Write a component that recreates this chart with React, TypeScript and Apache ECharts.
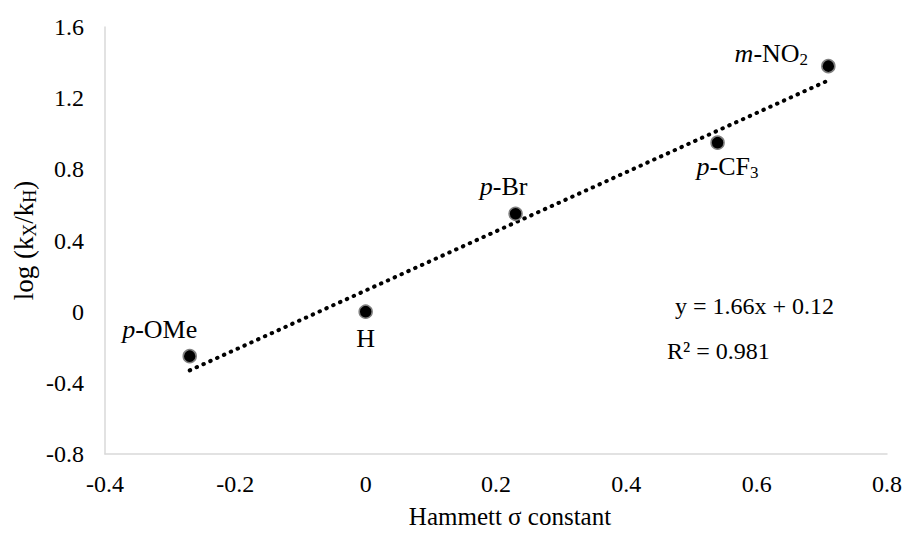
import React, { useEffect, useRef } from "react";
import * as echarts from "echarts";

const substituents = ["p-OMe", "H", "p-Br", "p-CF3", "m-NO2"];
const sigma = [-0.27, 0, 0.23, 0.54, 0.71];
const logRatio = [-0.25, 0, 0.55, 0.95, 1.38];
const trendX = [-0.27, 0.71];
const trendY = [-0.33, 1.3];
const xTickValues = [-0.4, -0.2, 0, 0.2, 0.4, 0.6, 0.8];
const xTickLabels = ["-0.4", "-0.2", "0", "0.2", "0.4", "0.6", "0.8"];
const yTickValues = [-0.8, -0.4, 0, 0.4, 0.8, 1.2, 1.6];
const yTickLabels = ["-0.8", "-0.4", "0", "0.4", "0.8", "1.2", "1.6"];
const xTicks = { min: -0.4, max: 0.8, interval: 0.2 };
const yTicks = { min: -0.8, max: 1.6, interval: 0.4 };
const equationText = "y = 1.66x + 0.12";
const r2Text = "R² = 0.981";

const FONT = "'Liberation Serif', 'Times New Roman', Times, serif";

const labelRich = {
  it: { fontFamily: FONT, fontSize: 26, fontStyle: "italic", color: "#000" },
  n: { fontFamily: FONT, fontSize: 26, color: "#000" },
  sub: { fontFamily: FONT, fontSize: 17, color: "#000", padding: [12, 0, 0, 0] },
};

const labelFormats: Record<string, string> = {
  "p-OMe": "{it|p}{n|-OMe}",
  H: "{n|H}",
  "p-Br": "{it|p}{n|-Br}",
  "p-CF3": "{it|p}{n|-CF}{sub|3}",
  "m-NO2": "{it|m}{n|-NO}{sub|2}",
};

const labelOffsets: Record<string, number[]> = {
  "p-OMe": [-30, -27],
  H: [0, 27],
  "p-Br": [-12, -27],
  "p-CF3": [10, 24],
  "m-NO2": [-57, -13],
};

export default function App() {
  const ref = useRef<HTMLDivElement>(null);
  useEffect(() => {
    if (!ref.current) return;
    document.body.style.margin = "0";
    document.body.style.overflow = "hidden";
    const chart = echarts.init(ref.current, null, { renderer: "svg" });
    chart.setOption({
      animation: false,
      backgroundColor: "#fff",
      textStyle: { fontFamily: FONT, color: "#000" },
      grid: { left: 105, right: 17, top: 27, bottom: 79, outerBoundsMode: "none", containLabel: false },
      xAxis: {
        type: "value",
        min: xTicks.min,
        max: xTicks.max,
        interval: xTicks.interval,
        splitLine: { show: false },
        axisTick: { show: false },
        axisLine: { show: true, onZero: false, lineStyle: { color: "#d9d9d9", width: 1.5 } },
        axisLabel: { show: false },
        name: "Hammett σ constant",
        nameLocation: "middle",
        nameGap: 50,
        nameTextStyle: { fontFamily: FONT, fontSize: 25, color: "#000", padding: [0, 0, 0, 28] },
      },
      yAxis: {
        type: "value",
        min: yTicks.min,
        max: yTicks.max,
        interval: yTicks.interval,
        splitLine: { show: false },
        axisTick: { show: false },
        axisLine: { show: true, onZero: false, lineStyle: { color: "#d9d9d9", width: 1.5 } },
        axisLabel: { show: false },
        name: "{n|log (k}{sub|X}{n|/k}{sub|H}{n|)}",
        nameLocation: "middle",
        nameGap: 66,
        nameTextStyle: {
          rich: {
            n: { fontFamily: FONT, fontSize: 27, color: "#000" },
            sub: { fontFamily: FONT, fontSize: 18, color: "#000", padding: [12, 0, 0, 0] },
          },
        },
      },
      series: [
        {
          type: "line",
          data: trendX.map((x, i) => [x, trendY[i]]),
          showSymbol: false,
          symbol: "none",
          lineStyle: { color: "#000", width: 4, type: [0.5, 7], cap: "round" },
          z: 1,
        },
        {
          type: "scatter",
          symbolSize: 13,
          itemStyle: { color: "#000", borderColor: "#808080", borderWidth: 1.5, opacity: 1 },
          z: 2,
          data: substituents.map((s, i) => ({
            value: [sigma[i], logRatio[i]],
            label: {
              show: true,
              position: "inside",
              offset: labelOffsets[s],
              formatter: labelFormats[s],
              rich: labelRich,
            },
          })),
        },
      ],
    });

    const axisY = chart.convertToPixel({ yAxisIndex: 0 }, yTicks.min) as number;
    const axisX = chart.convertToPixel({ xAxisIndex: 0 }, xTicks.min) as number;
    const tickTexts: any[] = [];
    xTickValues.forEach((v, i) => {
      tickTexts.push({
        type: "text",
        x: chart.convertToPixel({ xAxisIndex: 0 }, v) as number,
        y: axisY + 18,
        style: {
          text: xTickLabels[i],
          fontFamily: FONT,
          fontSize: 24,
          fill: "#000",
          align: "center",
          verticalAlign: "top",
        },
      });
    });
    yTickValues.forEach((v, i) => {
      tickTexts.push({
        type: "text",
        x: axisX - 21,
        y: chart.convertToPixel({ yAxisIndex: 0 }, v) as number,
        style: {
          text: yTickLabels[i],
          fontFamily: FONT,
          fontSize: 24,
          fill: "#000",
          align: "right",
          verticalAlign: "middle",
        },
      });
    });

    chart.setOption({
      graphic: [
        ...tickTexts,
        {
          type: "text",
          left: 675,
          top: 294,
          style: { text: equationText, fontFamily: FONT, fontSize: 24, fill: "#000" },
        },
        {
          type: "text",
          left: 667,
          top: 339,
          style: { text: r2Text, fontFamily: FONT, fontSize: 24, fill: "#000" },
        },
      ],
    });
    return () => chart.dispose();
  }, []);
  return (
    <div
      ref={ref}
      style={{ position: "absolute", left: 0, top: 0, width: 904, height: 533 }}
    />
  );
}
